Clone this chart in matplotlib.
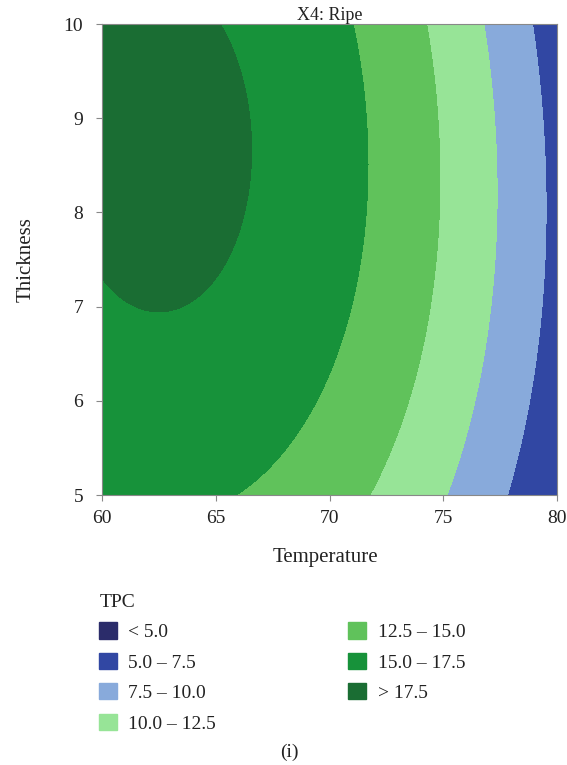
import numpy as np
import matplotlib.pyplot as plt
from matplotlib.patches import Patch

plt.rcParams['font.family'] = ['Liberation Serif', 'DejaVu Serif']

# response surface for TPC (X4 held at Ripe)
T_center = 62.5
H_center = 8.7
b0 = 18.113     # TPC at the centre
b_TT = 0.03693  # curvature along temperature
b_HH = 0.1989   # curvature along thickness
b_TTH = 0.0009  # temperature curvature change with thickness

T_range = [60, 80]
H_range = [5, 10]
T_ticks = [60, 65, 70, 75, 80]
H_ticks = [5, 6, 7, 8, 9, 10]

levels = [5.0, 7.5, 10.0, 12.5, 15.0, 17.5]
labels = ['< 5.0', '5.0 – 7.5', '7.5 – 10.0', '10.0 – 12.5',
          '12.5 – 15.0', '15.0 – 17.5', '> 17.5']
colors = ['#2b2c6a', '#3147a3', '#88aadb', '#97e497',
          '#60c25b', '#17923a', '#1a6d33']

T = np.linspace(T_range[0], T_range[1], 400)
H = np.linspace(H_range[0], H_range[1], 400)
TT, HH = np.meshgrid(T, H)
U = TT - T_center
V = HH - H_center
Z = b0 - b_TT*U**2 - b_HH*V**2 - b_TTH*U**2*V

fig = plt.figure(figsize=(5.67, 7.65), dpi=100)
ax = fig.add_axes([0.1799, 0.3529, 0.8025, 0.6157])
ax.contourf(TT, HH, Z, levels=[-1e3] + levels + [1e3], colors=colors)
ax.set_xlim(T_range)
ax.set_ylim(H_range)
ax.set_xticks(T_ticks)
ax.set_yticks(H_ticks)
ax.tick_params(labelsize=14, length=4, color='#888888', labelcolor='#222222')
ax.tick_params(axis='x', pad=7)
ax.tick_params(axis='y', pad=9.5)
for s in ax.spines.values():
    s.set_color('#888888')
ax.set_title('X4: Ripe', fontsize=13, pad=1, color='#222222')
ax.set_xlabel('Temperature', fontsize=15, color='#222222')
ax.set_ylabel('Thickness', fontsize=15, color='#222222')
ax.xaxis.set_label_coords(0.492, -0.112)
ax.yaxis.set_label_coords(-0.145, 0.5)

handles = [Patch(color=c) for c in colors]
leg = fig.legend(handles, labels, title='TPC', loc='upper left',
                 bbox_to_anchor=(0.158, 0.2366), ncol=2, frameon=False,
                 fontsize=14, title_fontsize=14, alignment='left',
                 handlelength=0.9, handleheight=0.9, handletextpad=0.6,
                 labelspacing=0.6, columnspacing=6.8, borderpad=0)
for t in leg.get_texts():
    t.set_color('#222222')
leg.get_title().set_color('#222222')
fig.text(0.511, 0.011, '(i)', ha='center', fontsize=14, color='#222222')

fig.savefig('out.png', dpi=100)
